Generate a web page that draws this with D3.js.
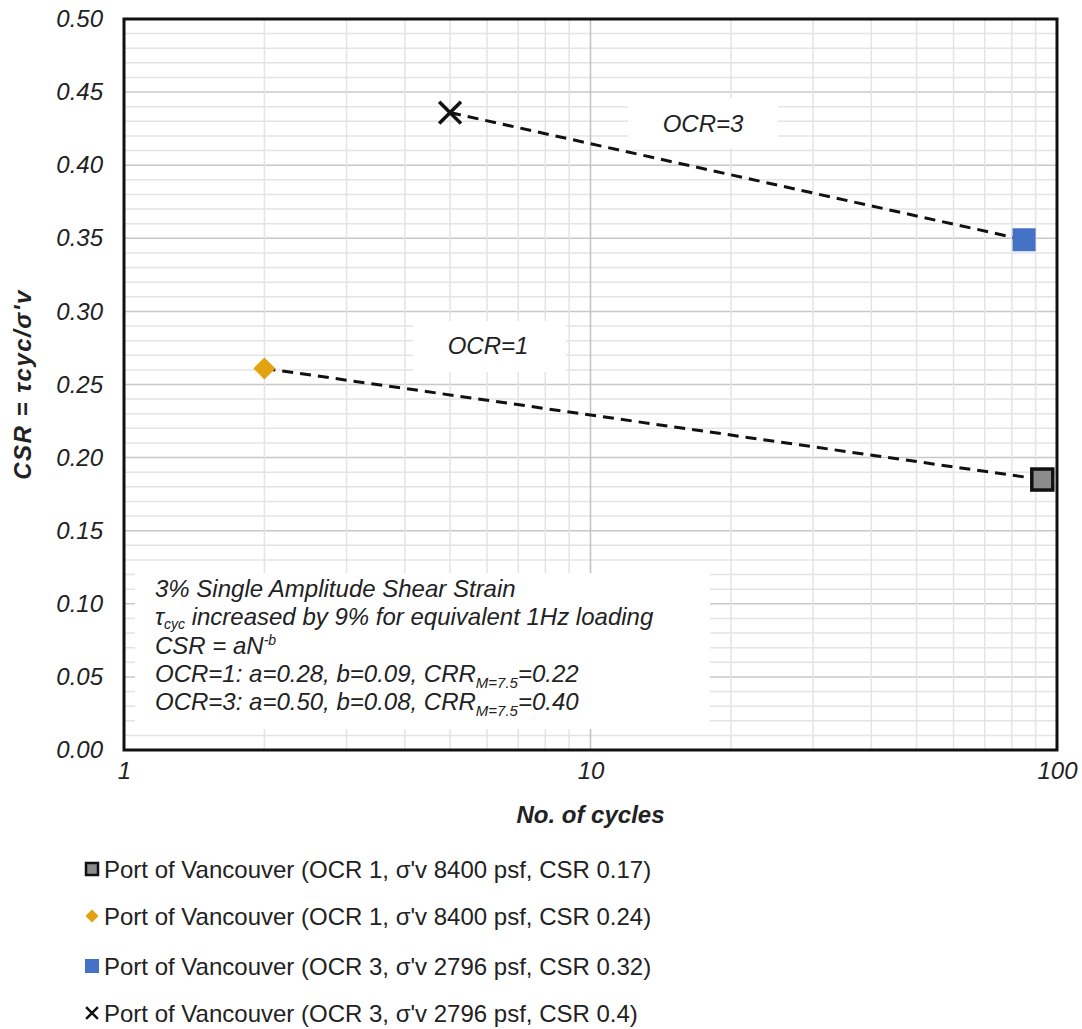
<!DOCTYPE html>
<html><head><meta charset="utf-8">
<script src="https://cdn.jsdelivr.net/npm/d3@7"></script>
<style>
html,body{margin:0;padding:0;background:#fff;}
text{font-family:"Liberation Sans",Arial,sans-serif;}
</style></head>
<body>
<svg id="chart" width="1082" height="1029"></svg>
<script>
// ---- data ----
const seriesNames = [
  "Port of Vancouver (OCR 1, σ'v 8400 psf, CSR 0.17)",
  "Port of Vancouver (OCR 1, σ'v 8400 psf, CSR 0.24)",
  "Port of Vancouver (OCR 3, σ'v 2796 psf, CSR 0.32)",
  "Port of Vancouver (OCR 3, σ'v 2796 psf, CSR 0.4)"
];
const seriesN   = [93, 2, 85, 5];
const seriesCSR = [0.185, 0.261, 0.349, 0.436];
// trend lines (endpoints of dashed fits)
const trendOCR1 = [[2, 0.261], [93, 0.185]];
const trendOCR3 = [[5, 0.436], [85, 0.349]];
const yTicks = [0,0.05,0.10,0.15,0.20,0.25,0.30,0.35,0.40,0.45,0.50];
const xTicks = [1,10,100];
const annoLines = [
  "3% Single Amplitude Shear Strain",
  "τcyc increased by 9% for equivalent 1Hz loading",
  "CSR = aN-b",
  "OCR=1: a=0.28, b=0.09, CRRM=7.5=0.22",
  "OCR=3: a=0.50, b=0.08, CRRM=7.5=0.40"
];

// ---- layout ----
const svg = d3.select("#chart");
const L = 124, T = 19, R = 1057, B = 750;
const x = d3.scaleLog().domain([1,100]).range([L,R]);
const y = d3.scaleLinear().domain([0,0.5]).range([B,T]);
const FS = 24;

const g = svg.append("g");
// minor horizontal grid
const yMinor = d3.range(1,50).map(i=>i/100);
g.selectAll(".hmin").data(yMinor).join("line")
  .attr("x1",L).attr("x2",R).attr("y1",d=>y(d)).attr("y2",d=>y(d))
  .attr("stroke", d=> (Math.round(d*100)%5===0) ? "#c8c8c8" : "#e4e4e4")
  .attr("stroke-width",1.5);
// vertical grid
const xMinor = [2,3,4,5,6,7,8,9,10,20,30,40,50,60,70,80,90];
g.selectAll(".vmin").data(xMinor).join("line")
  .attr("y1",T).attr("y2",B).attr("x1",d=>x(d)).attr("x2",d=>x(d))
  .attr("stroke", d=> d===10 ? "#c0c0c0" : "#e4e4e4")
  .attr("stroke-width",1.5);

// text boxes (white backgrounds)
g.append("rect").attr("x",628).attr("y",98).attr("width",150).attr("height",50).attr("fill","#fff");
g.append("rect").attr("x",413).attr("y",321).attr("width",153).attr("height",51).attr("fill","#fff");
g.append("rect").attr("x",135).attr("y",573).attr("width",575).attr("height",156).attr("fill","#fff");

// axes (ticks labels)
const yAxis = d3.axisLeft(y).tickValues(yTicks).tickFormat(d3.format(".2f")).tickSize(0).tickPadding(21);
const ya = svg.append("g").attr("transform",`translate(${L},0)`).call(yAxis);
ya.select(".domain").remove();
ya.selectAll("text").attr("font-size",FS).attr("font-style","italic").attr("fill","#222")
  .attr("font-family","'Liberation Sans',Arial,sans-serif");
const xAxis = d3.axisBottom(x).tickValues(xTicks).tickFormat(d3.format("d")).tickSize(0).tickPadding(12);
const xa = svg.append("g").attr("transform",`translate(0,${B})`).call(xAxis);
xa.select(".domain").remove();
xa.selectAll("text").attr("font-size",FS).attr("font-style","italic").attr("fill","#222")
  .attr("font-family","'Liberation Sans',Arial,sans-serif");

// plot border
svg.append("rect").attr("x",L).attr("y",T).attr("width",R-L).attr("height",B-T)
  .attr("fill","none").attr("stroke","#111").attr("stroke-width",3);

// trend lines
const line = d3.line().x(d=>x(d[0])).y(d=>y(d[1]));
[trendOCR1,trendOCR3].forEach(t=>{
  svg.append("path").attr("d",line(t)).attr("fill","none")
    .attr("stroke","#111").attr("stroke-width",3).attr("stroke-dasharray","11,7");
});

// labels
svg.append("text").attr("x",703).attr("y",132).attr("text-anchor","middle")
  .attr("font-size",FS).attr("font-style","italic").attr("fill","#222").text("OCR=3");
svg.append("text").attr("x",488).attr("y",354).attr("text-anchor","middle")
  .attr("font-size",FS).attr("font-style","italic").attr("fill","#222").text("OCR=1");

// markers
function drawMarker(sel, i, cx, cy, s){
  if(i===0){
    sel.append("rect").attr("x",cx-s/2).attr("y",cy-s/2).attr("width",s).attr("height",s)
      .attr("fill","#8c8c8c").attr("stroke","#111").attr("stroke-width",s>15?3.5:2.5);
  } else if(i===1){
    sel.append("path").attr("d",`M${cx},${cy-s/2}L${cx+s/2},${cy}L${cx},${cy+s/2}L${cx-s/2},${cy}Z`)
      .attr("fill","#e3a210");
  } else if(i===2){
    sel.append("rect").attr("x",cx-s/2).attr("y",cy-s/2).attr("width",s).attr("height",s)
      .attr("fill","#4472c4");
  } else {
    const h = s*0.42;
    sel.append("path").attr("d",`M${cx-h},${cy-h}L${cx+h},${cy+h}M${cx-h},${cy+h}L${cx+h},${cy-h}`)
      .attr("stroke","#111").attr("stroke-width",s>15?3.5:2.5).attr("fill","none");
  }
}
const sizes = [21,22,23,26];
seriesN.forEach((n,i)=> drawMarker(svg, i, x(n), y(seriesCSR[i]), sizes[i]));

// axis titles
svg.append("text").attr("transform",`translate(31,${(T+B)/2}) rotate(-90)`).attr("text-anchor","middle")
  .attr("font-size",24).attr("letter-spacing",1.5).attr("font-weight","bold").attr("font-style","italic").attr("fill","#222")
  .text("CSR = τcyc/σ'v");
svg.append("text").attr("x",(L+R)/2).attr("y",823).attr("text-anchor","middle")
  .attr("font-size",FS).attr("font-weight","bold").attr("font-style","italic").attr("fill","#222")
  .text("No. of cycles");

// annotation
const anno = svg.append("g").attr("font-size",FS).attr("font-style","italic").attr("fill","#222");
const ax = 155, ay0 = 597, lh = 28.3;
anno.append("text").attr("x",ax).attr("y",ay0).text(annoLines[0]);
const t2 = anno.append("text").attr("x",ax).attr("y",ay0+lh);
t2.append("tspan").text("τ");
t2.append("tspan").attr("font-size",14).attr("dy",4).text("cyc");
t2.append("tspan").attr("dy",-4).text(" increased by 9% for equivalent 1Hz loading");
const t3 = anno.append("text").attr("x",ax).attr("y",ay0+2*lh);
t3.append("tspan").text("CSR = aN");
t3.append("tspan").attr("font-size",14).attr("dy",-9).text("-b");
const t4 = anno.append("text").attr("x",ax).attr("y",ay0+3*lh);
t4.append("tspan").text("OCR=1: a=0.28, b=0.09, CRR");
t4.append("tspan").attr("font-size",15).attr("dy",6).text("M=7.5");
t4.append("tspan").attr("dy",-6).text("=0.22");
const t5 = anno.append("text").attr("x",ax).attr("y",ay0+4*lh);
t5.append("tspan").text("OCR=3: a=0.50, b=0.08, CRR");
t5.append("tspan").attr("font-size",15).attr("dy",6).text("M=7.5");
t5.append("tspan").attr("dy",-6).text("=0.40");

// legend
const legY = [869, 916, 966, 1013];
const leg = svg.append("g");
seriesNames.forEach((nm,i)=>{
  drawMarker(leg, i, 92, legY[i], i===0?12:(i===1?13:14));
  leg.append("text").attr("x",104).attr("y",legY[i]+9).attr("font-size",FS).attr("fill","#222").text(nm);
});
</script>
</body></html>
